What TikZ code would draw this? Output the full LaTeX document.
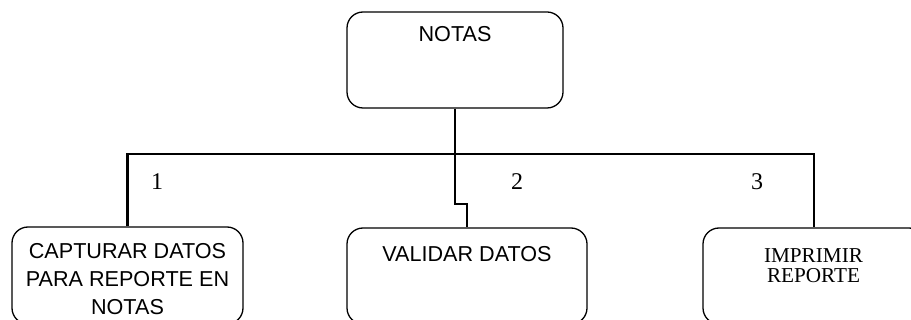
\documentclass[tikz,border=0pt]{standalone}
\usepackage{fontspec}
\setmainfont{Liberation Serif}
\setsansfont{Liberation Sans}
\tikzset{
  box/.style={draw,line width=.65pt,rounded corners=8pt,inner sep=0pt},
  boxtext/.style={font=\sffamily\fontsize{10.8}{14}\selectfont,align=center,inner sep=0pt},
  link/.style={line width=1.1pt},
  num/.style={font=\fontsize{12}{14}\selectfont,inner sep=0pt,anchor=base}
}
\begin{document}
\begin{tikzpicture}[x=.5pt,y=-.5pt]
\useasboundingbox (0,0) rectangle (911,320);
\clip (0,0) rectangle (911,320);
\node[box,minimum width=108pt,minimum height=48pt] (notas) at (455,60) {};
\node[box,minimum width=115.5pt,minimum height=48.5pt] (capturar) at (127.5,275.5) {};
\node[box,minimum width=120pt,minimum height=48pt] (validar) at (467,276) {};
\node[box,minimum width=111pt,minimum height=48pt] (imprimir) at (814,276) {};
\node[boxtext,anchor=base] (notas-t) at (455,42) {NOTAS};
\node[boxtext,anchor=north] (capturar-t) at (127.5,243) {CAPTURAR DATOS\\PARA REPORTE EN\\NOTAS};
\node[boxtext,anchor=base] (validar-t) at (467,262) {VALIDAR DATOS};
\node[boxtext,font=\rmfamily\fontsize{10.6}{10.3}\selectfont,anchor=north] (imprimir-t) at (813.5,248) {IMPRIMIR\\REPORTE};
\coordinate (hub) at (notas.south |- 0,154);
\draw[link] (notas.south) -- (hub);
\draw[link] (capturar.north) |- (imprimir.north |- hub) -- (imprimir.north);
\draw[link] (hub) -- ++(0,50) -| (validar.north);
\foreach \n/\x in {1/157,2/517,3/757}{
\node[num] (num\n) at (\x,190) {\n};
}
\end{tikzpicture}
\end{document}
